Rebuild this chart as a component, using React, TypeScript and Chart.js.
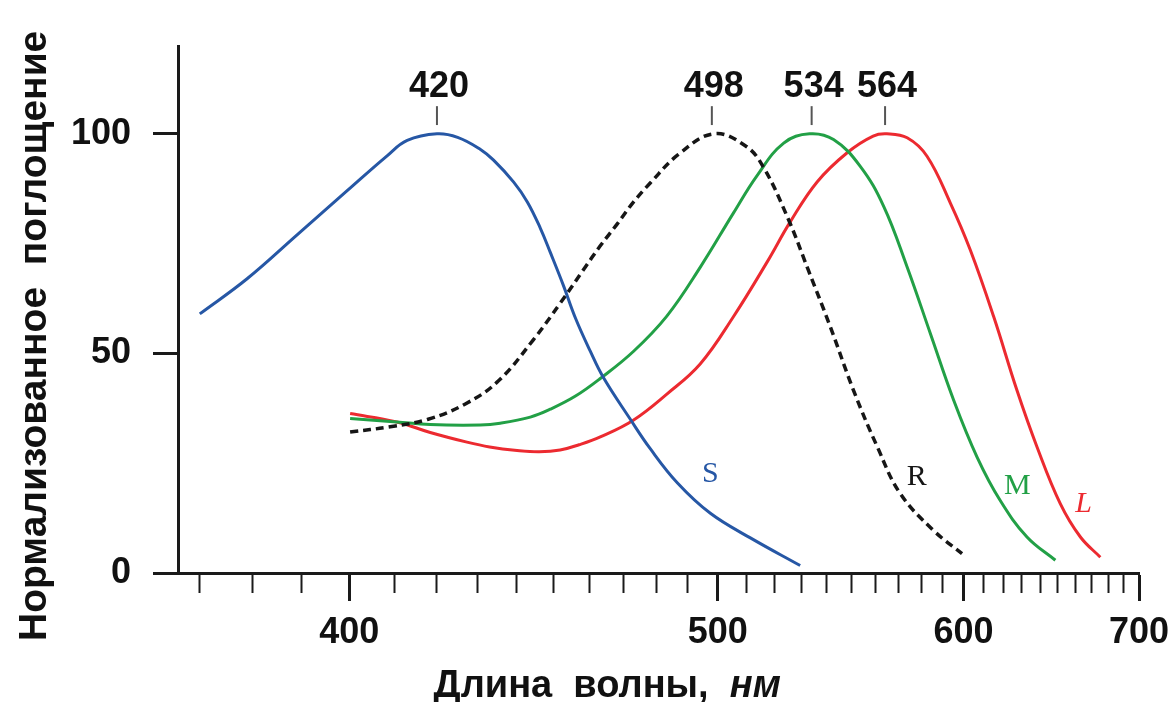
import React, { useEffect, useRef } from 'react';
import { Chart, registerables, LinearScale } from 'chart.js';

Chart.register(...registerables);

// Wavelength axis drawn on a reciprocal (wavenumber-like) scale
class ReciprocalScale extends LinearScale {
  static id = 'reciprocal';
  getPixelForValue(value: number) {
    if (value === null || value === undefined || isNaN(value)) return NaN;
    const a = 1 / this.min;
    const b = 1 / this.max;
    return this.getPixelForDecimal((a - 1 / value) / (a - b));
  }
  getValueForPixel(pixel: number) {
    const t = this.getDecimalForPixel(pixel);
    const a = 1 / this.min;
    const b = 1 / this.max;
    return 1 / (a - t * (a - b));
  }
}
Chart.register(ReciprocalScale);

// ---- Data (wavelength, nm / normalised absorbance) ----
const wavelengthS = [370, 379, 389, 399.5, 408.4, 413, 420, 425, 430.6, 434, 439.2, 442.8, 446.3, 449, 452.6, 456, 460.2, 464, 472, 478.1, 486.7, 497.5, 511.3, 529.6];
const absorbS = [59, 67, 77, 87, 95, 98.5, 100, 99.2, 96.5, 94, 89, 84.5, 78.5, 73, 65.5, 58, 50.5, 44.5, 35, 28.3, 20.5, 13.6, 8, 1.7];

const wavelengthR = [400.2, 409.1, 417.9, 426.9, 435.2, 444.4, 451.7, 458.2, 463.1, 468.1, 473, 478.1, 487, 498.6, 509.5, 515.9, 525.1, 532.7, 541.3, 550.7, 560.7, 570.6, 585.7, 599.3];
const absorbR = [32.1, 33.3, 35, 38.5, 43.7, 53.1, 61.4, 69, 74.5, 79.5, 84.5, 88.8, 95.3, 100, 97.3, 92.5, 80.6, 69, 56.1, 41.6, 28.7, 18.1, 9.7, 4.4];

const wavelengthM = [400.2, 410.6, 418.4, 430.6, 435.7, 443.6, 449, 456, 463.1, 473, 483.3, 494.1, 505.4, 513.7, 523.4, 533.2, 542.6, 553.5, 563.4, 573.6, 584.2, 595.2, 606.7, 618.5, 632.7, 648.5];
const absorbM = [35.2, 34.4, 33.8, 33.7, 34.1, 35.5, 37.3, 40.3, 44.3, 50.5, 58.5, 69.6, 82, 90.5, 97.9, 100, 98.7, 92.6, 83.5, 69.8, 54.6, 39.4, 26.4, 16.5, 8.2, 2.9];

const wavelengthL = [400.2, 410.6, 418.4, 427.3, 433, 440.1, 446, 451.7, 457, 463.1, 472.9, 483.4, 494.1, 505.3, 517.4, 525.9, 536.2, 548.1, 558.9, 564.8, 573.7, 582.7, 593.6, 603.3, 615.1, 627.3, 638.2, 651.3, 663.1, 675.2];
const absorbL = [36.3, 34.4, 32, 29.8, 28.7, 27.9, 27.6, 28, 29.2, 31, 34.8, 40.8, 47.6, 58.3, 70.9, 80, 89.1, 95.7, 99.5, 100, 99.1, 94.9, 84.3, 73.6, 58.4, 41.6, 28.7, 15.8, 8.2, 3.6];

const xTickValues = [370, 380, 390, 400, 410, 420, 430, 440, 450, 460, 470, 480, 490, 500, 510, 520, 530, 540, 550, 560, 570, 580, 590, 600, 610, 620, 630, 640, 650, 660, 670, 680, 690, 700];
const xMajorTicks = [400, 500, 600, 700];
const yTickValues = [0, 50, 100];

const peakWavelengths = [420, 498, 534, 564];

const curveNames = ['S', 'R', 'M', 'L'];
const curveLabelWavelength = [497.5, 578, 627.5, 665];
const curveLabelLevel = [22.6, 21.9, 19.8, 15.8];
const curveColors = ['#2657a5', '#161616', '#22a046', '#ec2a30'];

const xTitleMain = 'Длина  волны,  ';
const xTitleUnit = 'нм';
const yTitle = 'Нормализованное  поглощение';

const SANS = '"Liberation Sans", Arial, Helvetica, sans-serif';
const SERIF = '"Liberation Serif", "Times New Roman", serif';

const toPoints = (xs: number[], ys: number[]) => xs.map((x, i) => ({ x, y: ys[i] }));

const annotationPlugin = {
  id: 'spectraAnnotations',
  afterDraw(chart: any) {
    const { ctx, chartArea, scales } = chart;
    const x = scales.x;
    const y = scales.y;
    ctx.save();
    // peak markers
    ctx.font = `bold 36px ${SANS}`;
    ctx.textAlign = 'center';
    ctx.textBaseline = 'middle';
    peakWavelengths.forEach((w) => {
      const px = x.getPixelForValue(w);
      ctx.strokeStyle = '#555';
      ctx.lineWidth = 2;
      ctx.beginPath();
      ctx.moveTo(px, y.getPixelForValue(106.3));
      ctx.lineTo(px, y.getPixelForValue(102));
      ctx.stroke();
      ctx.fillStyle = '#111';
      ctx.fillText(String(w), px + 2, y.getPixelForValue(110.6));
    });
    // curve names
    curveNames.forEach((n, i) => {
      ctx.font = (n === 'L' ? 'italic ' : '') + `30px ${SERIF}`;
      ctx.fillStyle = curveColors[i];
      ctx.fillText(n, x.getPixelForValue(curveLabelWavelength[i]), y.getPixelForValue(curveLabelLevel[i]));
    });
    // x title (mixed styles)
    ctx.fillStyle = '#111';
    ctx.textBaseline = 'alphabetic';
    ctx.textAlign = 'left';
    const fMain = `bold 38px ${SANS}`;
    const fUnit = `italic bold 38px ${SANS}`;
    ctx.font = fMain;
    const w1 = ctx.measureText(xTitleMain).width;
    ctx.font = fUnit;
    const w2 = ctx.measureText(xTitleUnit).width;
    const cx = chartArea.left + (chartArea.right - chartArea.left) * 0.4466;
    const startX = cx - (w1 + w2) / 2;
    const baseY = chart.height - 5;
    ctx.font = fMain;
    ctx.fillText(xTitleMain, startX, baseY);
    ctx.font = fUnit;
    ctx.fillText(xTitleUnit, startX + w1, baseY);
    // y title (rotated)
    ctx.font = `bold 39px ${SANS}`;
    ctx.textAlign = 'center';
    ctx.translate(46, chartArea.top + (chartArea.bottom - chartArea.top) * 0.55);
    ctx.rotate(-Math.PI / 2);
    ctx.fillText(yTitle, 0, 0);
    ctx.restore();
  },
};

export default function App() {
  const canvasRef = useRef<HTMLCanvasElement>(null);

  useEffect(() => {
    const canvas = canvasRef.current;
    if (!canvas) return;
    const lineDs = (label: string, xs: number[], ys: number[], color: string, dash: number[] = [], width = 3) => ({
      label,
      data: toPoints(xs, ys),
      borderColor: color,
      backgroundColor: color,
      borderWidth: width,
      borderDash: dash,
      pointRadius: 0,
      fill: false,
      tension: 0.4,
    });
    const chart = new Chart(canvas, {
      type: 'line',
      data: {
        datasets: [
          lineDs('S', wavelengthS, absorbS, curveColors[0]),
          lineDs('R', wavelengthR, absorbR, curveColors[1], [8, 5], 3.5),
          lineDs('M', wavelengthM, absorbM, curveColors[2]),
          lineDs('L', wavelengthL, absorbL, curveColors[3]),
        ],
      },
      options: {
        responsive: false,
        animation: false,
        devicePixelRatio: 1,
        layout: { padding: { top: 46, right: 29, left: 0, bottom: 0 } },
        plugins: { legend: { display: false }, tooltip: { enabled: false }, title: { display: false } },
        scales: {
          x: {
            type: 'reciprocal' as any,
            min: 366,
            max: 700,
            afterBuildTicks: (scale: any) => {
              scale.ticks = xTickValues.map((v) => ({ value: v }));
            },
            afterFit: (scale: any) => {
              scale.height = 129;
              scale.paddingLeft = 0;
              scale.paddingRight = 0;
            },
            ticks: {
              autoSkip: false,
              maxRotation: 0,
              minRotation: 0,
              padding: 10,
              color: '#111',
              font: { family: SANS, size: 36, weight: 'bold' },
              callback: (v: any) => (xMajorTicks.includes(Number(v)) ? String(v) : ''),
            },
            grid: {
              display: true,
              drawOnChartArea: false,
              drawTicks: true,
              tickLength: 28,
              tickColor: '#1a1a1a',
              tickWidth: (c: any) => (c.tick && xMajorTicks.includes(c.tick.value) ? 3 : 2),
              tickBorderDash: (c: any) => (c.tick && xMajorTicks.includes(c.tick.value) ? [] : [18, 40]),
            },
            border: { display: true, color: '#1a1a1a', width: 3 },
          },
          y: {
            type: 'linear',
            min: 0,
            max: 120,
            afterBuildTicks: (scale: any) => {
              scale.ticks = yTickValues.map((v) => ({ value: v }));
            },
            afterFit: (scale: any) => {
              scale.width = 178;
              scale.paddingTop = 0;
              scale.paddingBottom = 0;
            },
            ticks: {
              padding: 22,
              color: '#111',
              font: { family: SANS, size: 36, weight: 'bold' },
              callback: (v: any) => String(v),
            },
            grid: {
              display: true,
              drawOnChartArea: false,
              drawTicks: true,
              tickLength: 25,
              tickColor: '#1a1a1a',
              tickWidth: 3,
            },
            border: { display: true, color: '#1a1a1a', width: 3 },
          },
        },
      },
      plugins: [annotationPlugin],
    });
    return () => chart.destroy();
  }, []);

  return (
    <div style={{ position: 'fixed', left: 0, top: 0, width: 1168, height: 702, background: '#fff' }}>
      <canvas ref={canvasRef} width={1168} height={702} style={{ display: 'block', width: 1168, height: 702 }} />
    </div>
  );
}
